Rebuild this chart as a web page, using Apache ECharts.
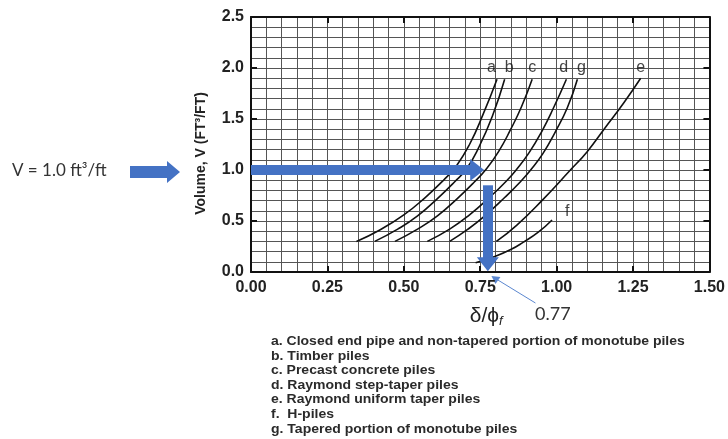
<!DOCTYPE html>
<html>
<head>
<meta charset="utf-8">
<script src="https://cdn.jsdelivr.net/npm/echarts@6/dist/echarts.min.js"></script>
<style>
html,body{margin:0;padding:0;background:#fff;}
#chart{width:728px;height:439px;}
</style>
</head>
<body>
<div id="chart"></div>
<script>
// ---- data ----
const xTickValues = [0, 0.25, 0.5, 0.75, 1.0, 1.25, 1.5];
const yTickValues = [0, 0.5, 1.0, 1.5, 2.0, 2.5];

const curveA = [[0.345,0.30],[0.42,0.41],[0.50,0.56],[0.57,0.73],[0.63,0.90],[0.672,1.04],[0.715,1.25],[0.76,1.55],[0.805,1.89]];
const curveB = [[0.405,0.30],[0.48,0.42],[0.545,0.55],[0.61,0.72],[0.665,0.88],[0.705,1.01],[0.745,1.22],[0.79,1.53],[0.830,1.89]];
const curveC = [[0.471,0.30],[0.545,0.42],[0.61,0.55],[0.675,0.72],[0.73,0.88],[0.77,1.01],[0.81,1.18],[0.85,1.40],[0.885,1.62],[0.920,1.89]];
const curveD = [[0.577,0.30],[0.65,0.42],[0.715,0.56],[0.78,0.73],[0.835,0.89],[0.87,1.01],[0.91,1.17],[0.95,1.37],[0.99,1.61],[1.032,1.89]];
const curveE = [[0.803,0.30],[0.87,0.46],[0.955,0.71],[1.042,0.99],[1.10,1.18],[1.16,1.42],[1.22,1.66],[1.275,1.90]];
const curveF = [[0.735,0.09],[0.80,0.155],[0.85,0.22],[0.89,0.29],[0.94,0.39],[0.985,0.51]];
const curveG = [[0.650,0.30],[0.71,0.42],[0.765,0.55],[0.83,0.73],[0.88,0.88],[0.915,1.00],[0.955,1.16],[0.995,1.37],[1.035,1.61],[1.068,1.89]];

const curveNames = ['a','b','c','d','e','f','g'];
const curveLabelAt = [[0.787,2.0],[0.845,2.0],[0.920,2.0],[1.023,2.0],[1.275,2.0],[1.035,0.59],[1.081,2.0]];

const legendLines = [
  'a. Closed end pipe and non-tapered portion of monotube piles',
  'b. Timber piles',
  'c. Precast concrete piles',
  'd. Raymond step-taper piles',
  'e. Raymond uniform taper piles',
  'f.  H-piles',
  'g. Tapered portion of monotube piles'
];

const vTarget = 1.0;
const deltaPhiRead = 0.77;
const arrowH = [[0, 1.0], [0.74, 1.0]];
const arrowV = [[0.775, 0.85], [0.775, 0.075]];

// ---- chart ----
const curves = [curveA, curveB, curveC, curveD, curveE, curveF, curveG];
const BLUE = '#4472C4';
const chart = echarts.init(document.getElementById('chart'), null, {renderer:'canvas'});

const gridLine = {show:true, lineStyle:{color:'#555', width:1}};
const axisCommonX = {
  type:'value', min:0, max:1.5, interval:0.25,
  axisLine:{show:true, onZero:false, lineStyle:{color:'#111', width:2}},
  axisTick:{show:true, inside:true, length:6, lineStyle:{color:'#111', width:2}},
  minorTick:{show:false, splitNumber:5}
};
const axisCommonY = {
  type:'value', min:0, max:2.5, interval:0.5,
  axisLine:{show:true, onZero:false, lineStyle:{color:'#111', width:2}},
  axisTick:{show:true, inside:true, length:6, lineStyle:{color:'#111', width:2}},
  minorTick:{show:false, splitNumber:5}
};

const series = curves.map((c, i) => ({
  name: curveNames[i], type:'line', data:c, smooth:0.5, symbol:'none',
  lineStyle:{color:'#111', width:1.6}, z:3, silent:true
}));
series.push({
  type:'scatter', symbolSize:0, silent:true, z:4,
  data: curveLabelAt.map((p,i)=>[p[0],p[1],curveNames[i]]),
  label:{show:true, position:'inside', formatter:p=>p.value[2], fontSize:16, color:'#111', fontFamily:'Liberation Sans'}
});
series.push({
  type:'line', data:[], silent:true, z:5,
  markLine:{
    silent:true, symbol:['none','triangle'], symbolSize:[22,14],
    label:{show:false},
    lineStyle:{type:'solid', color:BLUE, width:10, opacity:1},
    emphasis:{disabled:true},
    data:[
      [{coord:arrowH[0]},{coord:arrowH[1]}],
      [{coord:arrowV[0]},{coord:arrowV[1]}]
    ]
  }
});

chart.setOption({
  animation:false,
  backgroundColor:'#fff',
  grid:{left:251, top:17, width:459, height:255},
  xAxis:[
    Object.assign({}, axisCommonX, {
      position:'bottom',
      splitLine:gridLine, minorSplitLine:gridLine,
      axisLabel:{formatter:v=>v.toFixed(2), color:'#222', fontSize:16, fontWeight:'bold', fontFamily:'Liberation Sans', margin:8},
      name:'{d|δ/ϕ}{s|f}', nameLocation:'middle', nameGap:33,
      nameTextStyle:{padding:[0,0,0,12], rich:{
        d:{fontSize:21, fontFamily:'Liberation Sans', color:'#222'},
        s:{fontSize:13, fontStyle:'italic', fontFamily:'Liberation Sans', color:'#222', padding:[10,0,0,0]}
      }}
    }),
    Object.assign({}, axisCommonX, {position:'top', axisLabel:{show:false}, splitLine:{show:false}})
  ],
  yAxis:[
    Object.assign({}, axisCommonY, {
      position:'left',
      splitLine:gridLine, minorSplitLine:gridLine,
      axisLabel:{formatter:v=>v.toFixed(1), color:'#222', fontSize:16, fontWeight:'bold', fontFamily:'Liberation Sans', margin:7},
      name:'Volume, V (FT³/FT)', nameLocation:'middle', nameRotate:90, nameGap:43,
      nameTextStyle:{fontSize:14, fontWeight:'bold', fontFamily:'Liberation Sans', color:'#222', padding:[0,18,0,0]}
    }),
    Object.assign({}, axisCommonY, {position:'right', axisLabel:{show:false}, splitLine:{show:false}})
  ],
  series:series
});

// ---- annotations placed through the chart's scales ----
const pV = chart.convertToPixel({gridIndex:0}, [0, vTarget]);
const yV = pV[1] + 2;
const pAxis = chart.convertToPixel({gridIndex:0}, [deltaPhiRead + 0.02, 0]);
const bottomY = pAxis[1];

const graphics = [];
graphics.push({
  type:'text', left:12, top:yV-10,
  style:{text:'V = 1.0 ft³/ft', font:'17px Lato', fill:'#333'}
});
graphics.push({
  type:'polygon', silent:true,
  shape:{points:[[130,yV-6],[167,yV-6],[167,yV-11],[180,yV],[167,yV+11],[167,yV+6],[130,yV+6]]},
  style:{fill:BLUE}
});
// thin pointer from the "0.77" value to the axis
const tip = [pAxis[0]-1, bottomY+4];
graphics.push({
  type:'line', silent:true,
  shape:{x1:tip[0]+4, y1:tip[1]+2.5, x2:tip[0]+44, y2:tip[1]+27},
  style:{stroke:'#5b87d0', lineWidth:1}
});
graphics.push({
  type:'polygon', silent:true,
  shape:{points:[[tip[0],tip[1]],[tip[0]+9,tip[1]+1],[tip[0]+4,tip[1]+8]]},
  style:{fill:'#5b87d0'}
});
graphics.push({
  type:'text', left:535, top:bottomY+33,
  style:{text:deltaPhiRead.toFixed(2), font:'18px Lato', fill:'#333'}
});
legendLines.forEach((t,i)=>{
  graphics.push({
    type:'text', x:271, y:335 + i*14.6, scaleX:1.077,
    style:{text:t, font:'bold 13px "Liberation Sans"', fill:'#2a2a2a', textVerticalAlign:'top'}
  });
});
chart.setOption({graphic:graphics});
</script>
</body>
</html>
